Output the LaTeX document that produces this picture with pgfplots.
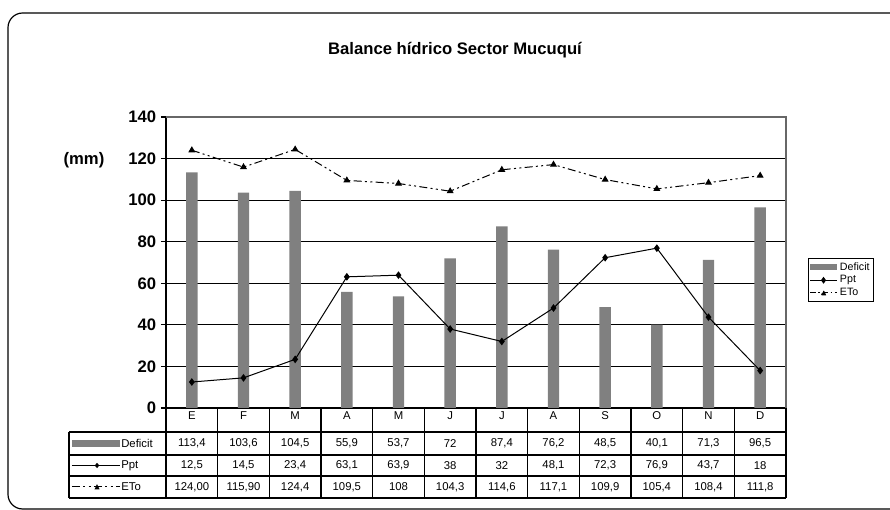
\documentclass[border=0pt]{standalone}
\usepackage{fontspec}
\setmainfont{Liberation Sans}
\usepackage{pgfplots}
\pgfplotsset{compat=1.18}
\definecolor{bargray}{RGB}{128,128,128}
\newcommand\tcell[3]{\node[font=\fontsize{8.5}{9}\selectfont, inner sep=0pt] at (axis cs:#1,#2) {#3};}
\begin{document}
\begin{tikzpicture}[x=0.75pt,y=0.75pt]
\path[use as bounding box] (0,0) rectangle (890,510);
\draw[line width=0.9pt, rounded corners=11pt] (8,1) rectangle (910,497);
\node[font=\fontsize{12.5}{14}\selectfont\bfseries] at (455,460) {Balance hídrico Sector Mucuquí};
\node[font=\fontsize{12.5}{14}\selectfont\bfseries] at (84,350) {(mm)};
\begin{axis}[
  at={(124.5pt,76.5pt)}, anchor=south west,
  scale only axis, width=465pt, height=218.25pt,
  xmin=0, xmax=12, ymin=0, ymax=140,
  clip=false,
  axis x line*=bottom, axis y line*=left,
  axis line style={line width=0.9pt, black, -},
  ytick={0,20,...,140},
  ymajorgrids, major grid style={black, line width=0.8pt},
  yticklabel style={font=\fontsize{12.5}{14}\selectfont\bfseries},
  /pgf/number format/assume math mode=true,
  tick align=outside, major tick length=3.8pt,
  ytick style={black, line width=0.8pt},
  xtick={0.5,1.5,...,11.5},
  xticklabels={E,F,M,A,M,J,J,A,S,O,N,D},
  xtick style={draw=none},
  xticklabel style={font=\fontsize{8.5}{9}\selectfont, anchor=center, yshift=-2pt},
  legend style={at={(rel axis cs:1.0355,0.515)}, anchor=north west,
    font=\fontsize{8}{8.5}\selectfont, draw=black, line width=0.6pt,
    inner sep=1pt, row sep=-1.5pt, legend cell align=left},
]
\addplot[ybar, bar width=0.22, fill=bargray, draw=none, area legend,
  legend image code/.code={\fill[bargray] (0cm,-0.08cm) rectangle (0.7cm,0.08cm);}]
  coordinates {(0.5,113.4) (1.5,103.6) (2.5,104.5) (3.5,55.9) (4.5,53.7) (5.5,72)
  (6.5,87.4) (7.5,76.2) (8.5,48.5) (9.5,40.1) (10.5,71.3) (11.5,96.5)};
\addlegendentry{Deficit}
\addplot[black, line width=0.75pt, mark=diamond*, mark size=2.3pt,
  legend image code/.code={\draw[black,line width=0.75pt] (0cm,0cm) -- (0.7cm,0cm);
    \fill[black] (0.35cm,0.07cm) -- (0.4cm,0cm) -- (0.35cm,-0.07cm) -- (0.3cm,0cm) -- cycle;}]
  coordinates {(0.5,12.5) (1.5,14.5) (2.5,23.4) (3.5,63.1) (4.5,63.9) (5.5,38)
  (6.5,32) (7.5,48.1) (8.5,72.3) (9.5,76.9) (10.5,43.7) (11.5,18)};
\addlegendentry{Ppt}
\addplot[black, line width=0.75pt, dash pattern=on 6pt off 2.5pt on 1.5pt off 2.5pt on 1.5pt off 2.5pt,
  mark=triangle*, mark size=2.3pt, mark options={solid},
  legend image code/.code={\draw[black,line width=0.75pt,dash pattern=on 4pt off 2pt on 1.2pt off 2pt] (0cm,0cm) -- (0.7cm,0cm);
    \fill[black] (0.3cm,-0.05cm) -- (0.4cm,-0.05cm) -- (0.35cm,0.06cm) -- cycle;}]
  coordinates {(0.5,124.0) (1.5,115.9) (2.5,124.4) (3.5,109.5) (4.5,108) (5.5,104.3)
  (6.5,114.6) (7.5,117.1) (8.5,109.9) (9.5,105.4) (10.5,108.4) (11.5,111.8)};
\addlegendentry{ETo}
% top and right frame
\draw[bargray!80!black, line width=0.9pt] (axis cs:0,140) -- (axis cs:12,140) -- (axis cs:12,0);
% data table grid
\draw[black, line width=0.9pt]
  (axis cs:0,0) -- (axis cs:0,-43.3)
  (axis cs:12,0) -- (axis cs:12,-43.3)
  (axis cs:-1.877,-11.55) -- (axis cs:12,-11.55)
  (axis cs:-1.877,-22.6) -- (axis cs:12,-22.6)
  (axis cs:-1.877,-32.7) -- (axis cs:12,-32.7)
  (axis cs:-1.877,-43.3) -- (axis cs:12,-43.3)
  (axis cs:-1.877,-11.55) -- (axis cs:-1.877,-43.3);
\pgfplotsinvokeforeach{1,...,11}{
  \draw[black, line width=0.9pt] (axis cs:#1,0) -- (axis cs:#1,-43.3);
}
% legend keys in the table
\fill[bargray] (axis cs:-1.82,-15.3) rectangle (axis cs:-0.89,-18.9);
\node[anchor=west, font=\fontsize{8.5}{9}\selectfont, inner sep=0pt] at (axis cs:-0.87,-17.1) {Deficit};
\draw[black, line width=0.75pt] (axis cs:-1.82,-27.65) -- (axis cs:-0.89,-27.65);
\fill[black] (axis cs:-1.335,-26.4) -- (axis cs:-1.29,-27.65) -- (axis cs:-1.335,-28.9) -- (axis cs:-1.38,-27.65) -- cycle;
\node[anchor=west, font=\fontsize{8.5}{9}\selectfont, inner sep=0pt] at (axis cs:-0.87,-27.65) {Ppt};
\draw[black, line width=0.75pt, dash pattern=on 6pt off 2.5pt on 1.5pt off 2.5pt on 1.5pt off 2.5pt] (axis cs:-1.82,-38.0) -- (axis cs:-0.89,-38.0);
\fill[black] (axis cs:-1.385,-39.2) -- (axis cs:-1.285,-39.2) -- (axis cs:-1.335,-36.6) -- cycle;
\node[anchor=west, font=\fontsize{8.5}{9}\selectfont, inner sep=0pt] at (axis cs:-0.87,-38.0) {ETo};
% table values
\tcell{0.5}{-17.1}{113,4}\tcell{1.5}{-17.1}{103,6}\tcell{2.5}{-17.1}{104,5}\tcell{3.5}{-17.1}{55,9}
\tcell{4.5}{-17.1}{53,7}\tcell{5.5}{-17.1}{72}\tcell{6.5}{-17.1}{87,4}\tcell{7.5}{-17.1}{76,2}
\tcell{8.5}{-17.1}{48,5}\tcell{9.5}{-17.1}{40,1}\tcell{10.5}{-17.1}{71,3}\tcell{11.5}{-17.1}{96,5}
\tcell{0.5}{-27.65}{12,5}\tcell{1.5}{-27.65}{14,5}\tcell{2.5}{-27.65}{23,4}\tcell{3.5}{-27.65}{63,1}
\tcell{4.5}{-27.65}{63,9}\tcell{5.5}{-27.65}{38}\tcell{6.5}{-27.65}{32}\tcell{7.5}{-27.65}{48,1}
\tcell{8.5}{-27.65}{72,3}\tcell{9.5}{-27.65}{76,9}\tcell{10.5}{-27.65}{43,7}\tcell{11.5}{-27.65}{18}
\tcell{0.5}{-38.0}{124,00}\tcell{1.5}{-38.0}{115,90}\tcell{2.5}{-38.0}{124,4}\tcell{3.5}{-38.0}{109,5}
\tcell{4.5}{-38.0}{108}\tcell{5.5}{-38.0}{104,3}\tcell{6.5}{-38.0}{114,6}\tcell{7.5}{-38.0}{117,1}
\tcell{8.5}{-38.0}{109,9}\tcell{9.5}{-38.0}{105,4}\tcell{10.5}{-38.0}{108,4}\tcell{11.5}{-38.0}{111,8}
\end{axis}
\end{tikzpicture}
\end{document}
